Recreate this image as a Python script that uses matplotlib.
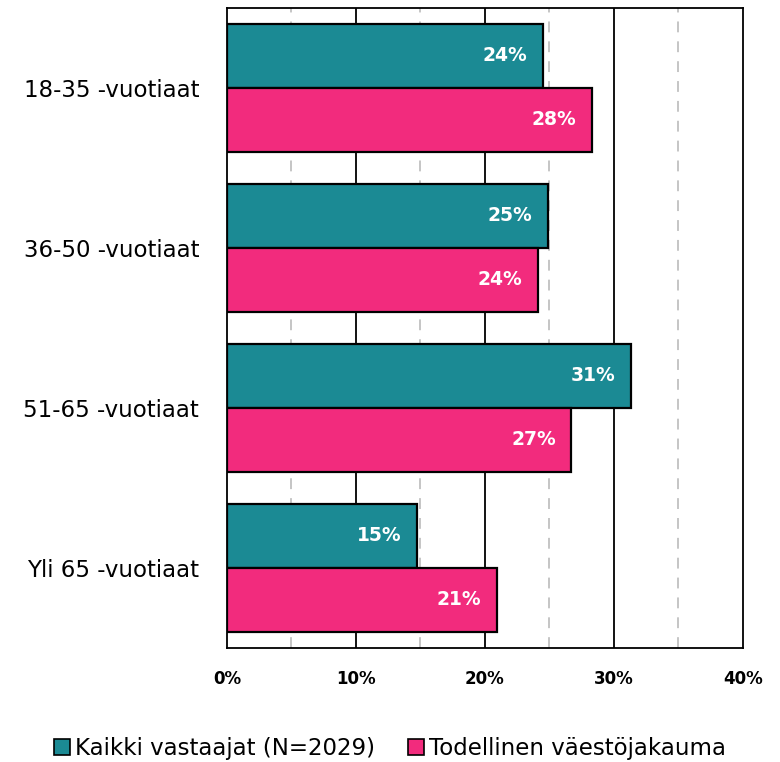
import numpy as np
import matplotlib
matplotlib.use("Agg")
import matplotlib.pyplot as plt
from matplotlib.patches import Patch

# data
categories = ["18-35 -vuotiaat", "36-50 -vuotiaat", "51-65 -vuotiaat", "Yli 65 -vuotiaat"]
vastaajat = [24.5, 24.9, 31.3, 14.7]
vaesto = [28.3, 24.1, 26.7, 20.9]
vastaajat_labels = ["24%", "25%", "31%", "15%"]
vaesto_labels = ["28%", "24%", "27%", "21%"]
series_names = ["Kaikki vastaajat (N=2029)", "Todellinen väestöjakauma"]

TEAL = "#1b8a94"
PINK = "#f22b7d"

plt.rcParams["font.family"] = ["DejaVu Sans"]

fig = plt.figure(figsize=(7.8, 7.62), dpi=100)
ax = fig.add_axes([0.291, 0.1496, 0.6615, 0.84])

y = np.arange(len(categories))
h = 0.4

ax.barh(y - h / 2, vastaajat, height=h, color=TEAL, edgecolor="black", linewidth=1.6, zorder=3)
ax.barh(y + h / 2, vaesto, height=h, color=PINK, edgecolor="black", linewidth=1.6, zorder=3)

for i in range(len(categories)):
    ax.text(vastaajat[i] - 1.2, y[i] - h / 2, vastaajat_labels[i], color="white",
            fontsize=13.5, fontweight="bold", ha="right", va="center", zorder=4)
    ax.text(vaesto[i] - 1.2, y[i] + h / 2, vaesto_labels[i], color="white",
            fontsize=13.5, fontweight="bold", ha="right", va="center", zorder=4)

# grid: solid at major, dashed at minor
for v in [10, 20, 30]:
    ax.axvline(v, color="black", linewidth=1.3, zorder=1)
for v in [5, 15, 25, 35]:
    ax.axvline(v, color="#c0c0c0", linewidth=1.3, linestyle=(0, (6, 5)), zorder=1)

ax.set_xlim(0, 40)
ax.set_ylim(len(categories) - 0.5, -0.5)
ax.set_xticks([0, 10, 20, 30, 40])
ax.set_xticklabels(["0%", "10%", "20%", "30%", "40%"], fontsize=12, fontweight="bold")
ax.set_yticks(y)
ax.set_yticklabels(categories, fontsize=16.5)
ax.tick_params(axis="both", length=0)
ax.tick_params(axis="x", pad=16)
ax.tick_params(axis="y", pad=20)
for s in ax.spines.values():
    s.set_color("black")
    s.set_linewidth(1.3)

handles = [Patch(facecolor=TEAL, edgecolor="black", linewidth=1.2),
           Patch(facecolor=PINK, edgecolor="black", linewidth=1.2)]
fig.legend(handles, series_names, loc="center", bbox_to_anchor=(0.5, 0.018), ncol=2,
           frameon=False, fontsize=16.5, handlelength=0.7, handleheight=0.7,
           handletextpad=0.25, columnspacing=1.4)

fig.savefig("out.png", dpi=100)
